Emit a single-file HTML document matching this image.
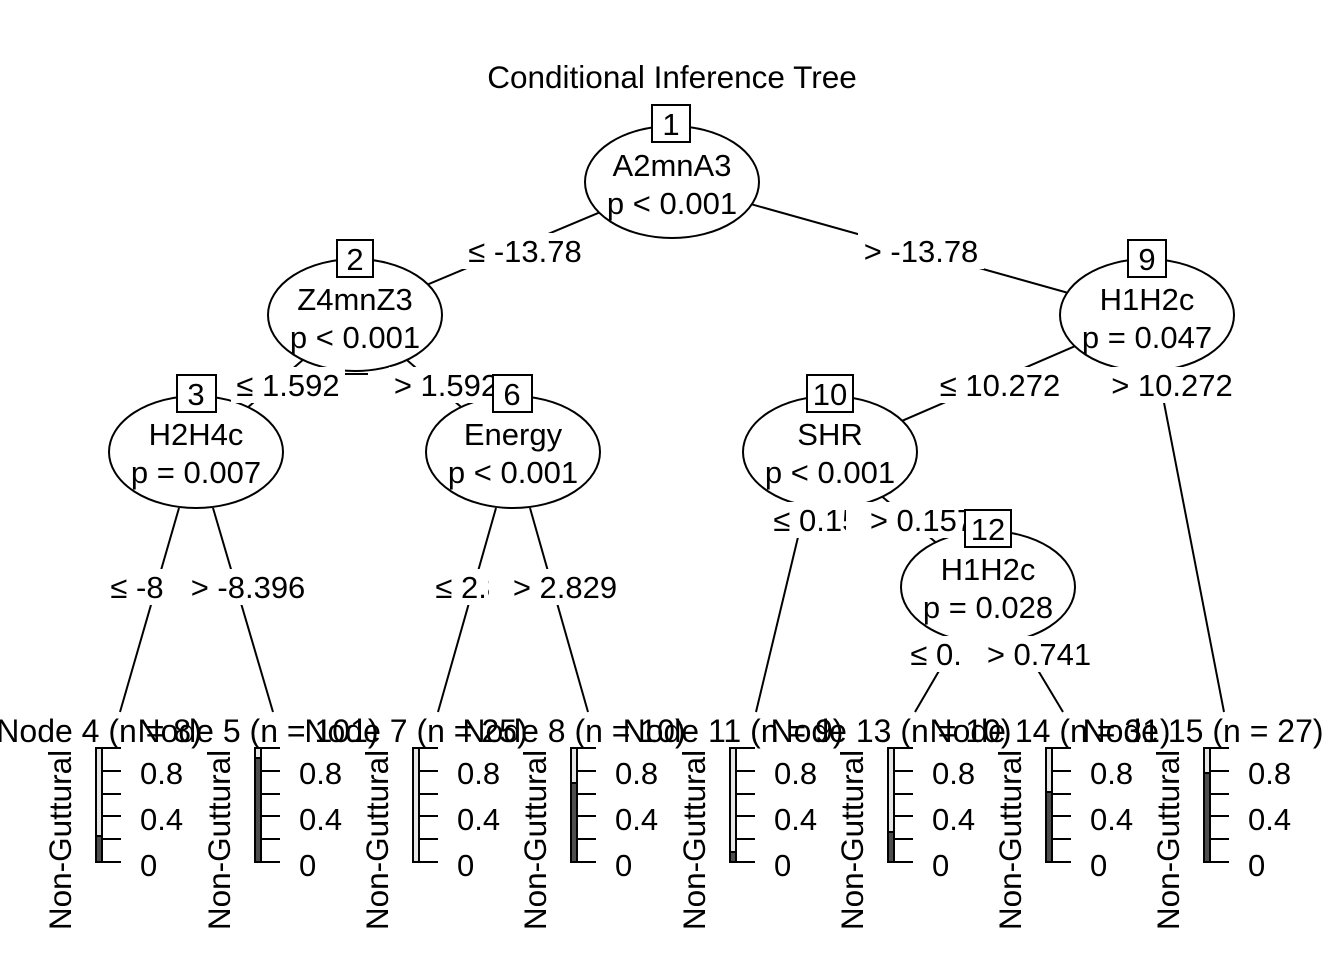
<!DOCTYPE html>
<html><head><meta charset="utf-8"><style>
html,body{margin:0;padding:0;background:#fff;}
svg{display:block;}
text{font-family:"Liberation Sans",Arial,sans-serif;fill:#000;}
</style></head><body>
<svg width="1344" height="960" viewBox="0 0 1344 960" xmlns="http://www.w3.org/2000/svg">
<rect width="1344" height="960" fill="#fff"/>
<text x="672" y="88" font-size="31.5" text-anchor="middle">Conditional Inference Tree</text>
<g stroke="#000" stroke-width="2" fill="none">
<line x1="672" y1="182" x2="355" y2="315"/>
<line x1="672" y1="182" x2="1147" y2="315"/>
<line x1="355" y1="315" x2="196" y2="452"/>
<line x1="355" y1="315" x2="513" y2="452"/>
<line x1="1147" y1="315" x2="830" y2="452"/>
<line x1="1147" y1="315" x2="1224" y2="712"/>
<line x1="830" y1="452" x2="988" y2="587"/>
<line x1="179" y1="508" x2="120" y2="712"/>
<line x1="213" y1="508" x2="273" y2="712"/>
<line x1="496" y1="508" x2="438" y2="712"/>
<line x1="530" y1="508" x2="588" y2="712"/>
<line x1="805" y1="508" x2="756" y2="712"/>
<line x1="988" y1="587" x2="915" y2="712"/>
<line x1="988" y1="587" x2="1063" y2="712"/>
</g>
<g stroke="#000" stroke-width="2" fill="#fff">
<ellipse cx="672" cy="182" rx="87" ry="56"/>
<ellipse cx="355" cy="315" rx="87" ry="56"/>
<ellipse cx="196" cy="452" rx="87" ry="56"/>
<ellipse cx="513" cy="452" rx="87" ry="56"/>
<ellipse cx="1147" cy="315" rx="87" ry="56"/>
<ellipse cx="830" cy="452" rx="87" ry="56"/>
<ellipse cx="988" cy="587" rx="87" ry="56"/>
</g>
<g font-size="31" text-anchor="middle">
<text x="672" y="176">A2mnA3</text><text x="672" y="214">p &lt; 0.001</text>
<text x="355" y="310">Z4mnZ3</text><text x="355" y="348">p &lt; 0.001</text>
<text x="196" y="445">H2H4c</text><text x="196" y="483">p = 0.007</text>
<text x="513" y="445">Energy</text><text x="513" y="483">p &lt; 0.001</text>
<text x="1147" y="310">H1H2c</text><text x="1147" y="348">p = 0.047</text>
<text x="830" y="445">SHR</text><text x="830" y="483">p &lt; 0.001</text>
<text x="988" y="580">H1H2c</text><text x="988" y="618">p = 0.028</text>
</g>
<g font-size="31" text-anchor="middle">
<rect x="462" y="233" width="126" height="36" fill="#fff"/><text x="525" y="262">≤ -13.78</text>
<rect x="858" y="233" width="126" height="36" fill="#fff"/><text x="921" y="262">&gt; -13.78</text>
<rect x="231" y="367" width="114" height="36" fill="#fff"/><text x="288" y="396">≤ 1.592</text>
<rect x="389" y="367" width="116" height="36" fill="#fff"/><text x="446" y="396">&gt; 1.592</text>
<rect x="934" y="367" width="132" height="36" fill="#fff"/><text x="1000" y="396">≤ 10.272</text>
<rect x="1106" y="367" width="132" height="36" fill="#fff"/><text x="1172" y="396">&gt; 10.272</text>
<rect x="106" y="569" width="62" height="36" fill="#fff"/><text x="137" y="598">≤ -8</text>
<rect x="186" y="569" width="124" height="36" fill="#fff"/><text x="248" y="598">&gt; -8.396</text>
<rect x="428" y="569" width="114" height="36" fill="#fff"/><text x="487" y="598">≤ 2.829</text>
<rect x="489" y="569" width="134" height="36" fill="#fff"/><text x="565" y="598">&gt; 2.829</text>
<rect x="766" y="502" width="114" height="36" fill="#fff"/><text x="825" y="531">≤ 0.157</text>
<rect x="846" y="502" width="130" height="36" fill="#fff"/><text x="922" y="531">&gt; 0.157</text>
<rect x="903" y="636" width="114" height="36" fill="#fff"/><text x="962" y="665">≤ 0.741</text>
<rect x="963" y="636" width="134" height="36" fill="#fff"/><text x="1039" y="665">&gt; 0.741</text>
</g>
<line x1="345" y1="374" x2="368" y2="374" stroke="#000" stroke-width="2"/>
<g stroke="#000" stroke-width="2" fill="#fff">
<rect x="652" y="105" width="38" height="37"/>
<rect x="337" y="240" width="36" height="37"/>
<rect x="177" y="375" width="39" height="37"/>
<rect x="493" y="375" width="39" height="37"/>
<rect x="1128" y="240" width="38" height="37"/>
<rect x="807" y="375" width="46" height="37"/>
<rect x="965" y="510" width="46" height="37"/>
</g>
<g font-size="31" text-anchor="middle">
<text x="671" y="135">1</text>
<text x="355" y="270">2</text>
<text x="196" y="405">3</text>
<text x="512" y="405">6</text>
<text x="1147" y="270">9</text>
<text x="830" y="405">10</text>
<text x="988" y="540">12</text>
</g>
<g font-size="32" text-anchor="middle">
<text x="99" y="742">Node 4 (n = 8)</text>
<text x="258" y="742">Node 5 (n = 101)</text>
<text x="416" y="742">Node 7 (n = 25)</text>
<text x="574" y="742">Node 8 (n = 10)</text>
<text x="733" y="742">Node 11 (n = 9)</text>
<text x="891" y="742">Node 13 (n = 10)</text>
<text x="1050" y="742">Node 14 (n = 31)</text>
<text x="1203" y="742">Node 15 (n = 27)</text>
</g>
<defs>
<g id="axis">
<rect x="0" y="748" width="6" height="114" fill="#e6e6e6" stroke="#000" stroke-width="2"/>
<g stroke="#000" stroke-width="2">
<line x1="6" y1="748" x2="25" y2="748"/><line x1="6" y1="771" x2="25" y2="771"/>
<line x1="6" y1="794" x2="25" y2="794"/><line x1="6" y1="816" x2="25" y2="816"/>
<line x1="6" y1="839" x2="25" y2="839"/><line x1="6" y1="862" x2="25" y2="862"/>
</g>
<text x="44" y="784" font-size="31">0.8</text>
<text x="44" y="830" font-size="31">0.4</text>
<text x="44" y="876" font-size="31">0</text>
<text transform="translate(-25,840) rotate(-90)" font-size="31.5" text-anchor="middle">Non-Guttural</text>
</g>
</defs>
<use href="#axis" x="96"/><rect x="96" y="836" width="6" height="26" fill="#4d4d4d" stroke="#000" stroke-width="2"/>
<use href="#axis" x="255"/><rect x="255" y="758" width="6" height="104" fill="#4d4d4d" stroke="#000" stroke-width="2"/>
<use href="#axis" x="413"/>
<use href="#axis" x="571"/><rect x="571" y="783" width="6" height="79" fill="#4d4d4d" stroke="#000" stroke-width="2"/>
<use href="#axis" x="730"/><rect x="730" y="852" width="6" height="10" fill="#4d4d4d" stroke="#000" stroke-width="2"/>
<use href="#axis" x="888"/><rect x="888" y="832" width="6" height="30" fill="#4d4d4d" stroke="#000" stroke-width="2"/>
<use href="#axis" x="1046"/><rect x="1046" y="792" width="6" height="70" fill="#4d4d4d" stroke="#000" stroke-width="2"/>
<use href="#axis" x="1204"/><rect x="1204" y="773" width="6" height="89" fill="#4d4d4d" stroke="#000" stroke-width="2"/>
</svg>
</body></html>
